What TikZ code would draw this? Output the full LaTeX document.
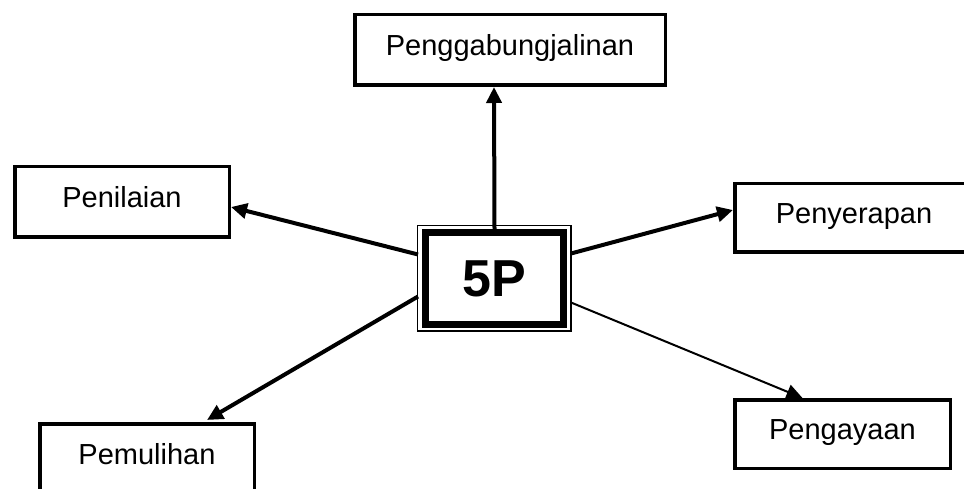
\documentclass[tikz,border=0pt]{standalone}
\usepackage{fontspec}
\setmainfont{Liberation Sans}
\usetikzlibrary{arrows.meta}
\newcommand*{\txt}[1]{\fontsize{29}{34}\selectfont #1}

\begin{document}
\begin{tikzpicture}[x=1pt,y=-1pt,
  box/.style={draw,line width=3.5pt,minimum height=70.5pt,
              text height=21pt,text depth=10pt,inner sep=0pt},
  arr/.style={line width=4pt,-{Triangle[length=16pt,width=15pt]}}]
% Page frame, boxes on the edge are cut off
\useasboundingbox (0,0) rectangle (964,489);
\clip (0,0) rectangle (964,489);
% Centre box with thin outer frame
\node[draw,line width=7pt,minimum width=138pt,minimum height=92pt,
      font=\fontsize{52}{62}\selectfont\bfseries] (p5) at (494.5,278.5) {5P};
\draw[line width=1.5pt] ([shift={(-4.5pt,3.5pt)}]p5.north west)
  rectangle ([shift={(4pt,-3pt)}]p5.south east);
% The five boxes round it
\node[box,minimum width=310.5pt] (gab) at (510,50) {\txt{Penggabungjalinan}};
\node[box,minimum width=214.5pt] (nil) at (122,202) {\txt{Penilaian}};
\node[box,minimum width=238.5pt,minimum height=68.5pt] (nyr) at (854,218) {\txt{Penyerapan}};
\node[box,minimum width=214.5pt] (mul) at (147,459) {\txt{Pemulihan}};
\node[box,minimum width=215.5pt,minimum height=68.5pt] (aya) at (842.5,434) {\txt{Pengayaan}};
% Arrows out of the centre
\draw[arr] (p5.north) -- ([xshift=-16pt]gab.south);
\draw[arr] ([xshift=-4pt,yshift=24pt]p5.west) -- ([yshift=-5pt]nil.east);
\draw[arr] ([xshift=4pt,yshift=25pt]p5.east) -- ([yshift=8pt]nyr.west);
\draw[arr] ([xshift=-4pt,yshift=-18pt]p5.west) -- ([xshift=60pt,yshift=2pt]mul.north);
\draw[arr,line width=2pt] ([xshift=4pt,yshift=-24pt]p5.east) -- ([xshift=-40pt]aya.north);
\end{tikzpicture}
\end{document}
